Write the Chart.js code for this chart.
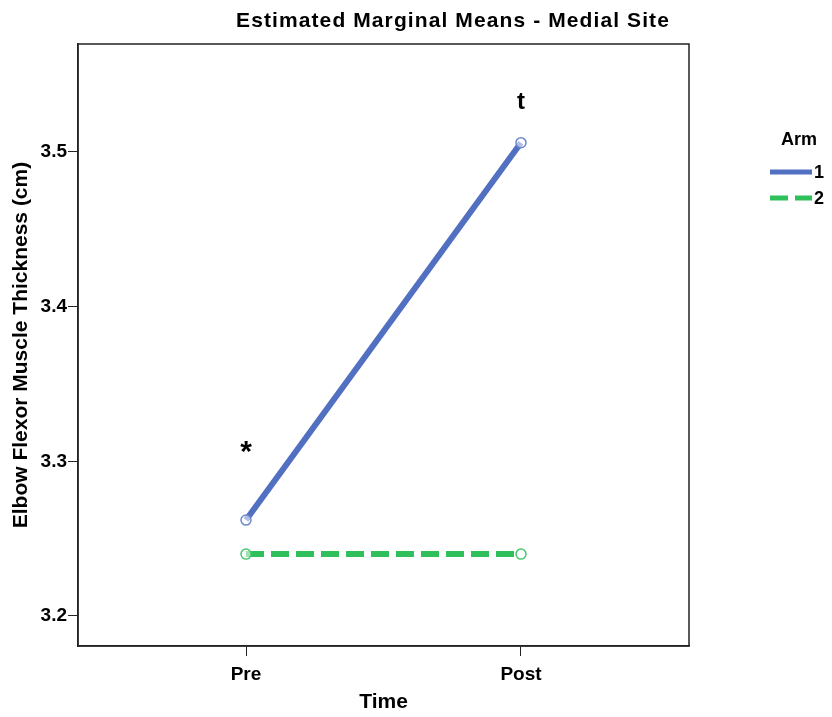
<!DOCTYPE html>
<html>
<head>
<meta charset="utf-8">
<title>Estimated Marginal Means - Medial Site</title>
<script src="https://cdn.jsdelivr.net/npm/chart.js@4.4.1/dist/chart.umd.min.js"></script>
<style>
  html, body { margin: 0; padding: 0; background: #fff; }
  #wrap { width: 832px; height: 717px; }
</style>
</head>
<body>
<div id="wrap"><canvas id="emmChart" width="832" height="717"></canvas></div>
<script>
// データ
const timePoints = ['Pre', 'Post'];
const arm1Means = [3.262, 3.506];
const arm2Means = [3.240, 3.240];
const yTicks = [3.2, 3.3, 3.4, 3.5];
// 有意差マーク
const markText = ['*', 't'];
const markValue = [3.309, 3.532];

const FONT = "'Liberation Sans', Arial, Helvetica, sans-serif";
const BLUE = '#5270c2';
const GREEN = '#2fbf5b';

function toPoints(values) {
    return values.map((v, i) => ({ x: i + 1, y: v }));
}

// タイトル・凡例・枠・マークを描画
const decorPlugin = {
    id: 'decor',
    afterDraw(chart) {
        const ctx = chart.ctx;
        const area = chart.chartArea;
        const xs = chart.scales.x;
        const ys = chart.scales.y;
        ctx.save();

        // 枠
        ctx.strokeStyle = '#222';
        ctx.lineWidth = 1.5;
        ctx.strokeRect(area.left, area.top, area.right - area.left, area.bottom - area.top);

        // タイトル
        ctx.fillStyle = '#000';
        ctx.font = 'bold 21px ' + FONT;
        ctx.textAlign = 'center';
        ctx.textBaseline = 'middle';
        if ('letterSpacing' in ctx) ctx.letterSpacing = '1.1px';
        ctx.fillText('Estimated Marginal Means - Medial Site', 453, 21);
        if ('letterSpacing' in ctx) ctx.letterSpacing = '0px';

        // マーク
        markText.forEach((t, i) => {
            ctx.font = (t === '*' ? 'bold 30px ' : 'bold 24px ') + FONT;
            ctx.fillText(t, xs.getPixelForValue(i + 1), ys.getPixelForValue(markValue[i]) + (t === '*' ? 5 : 0));
        });

        // 凡例
        ctx.font = 'bold 18px ' + FONT;
        ctx.fillText('Arm', 799, 140);
        ctx.textAlign = 'left';
        chart.data.datasets.forEach((ds, i) => {
            const y = 172 + i * 26;
            ctx.strokeStyle = ds.borderColor;
            ctx.lineWidth = 5;
            ctx.setLineDash(ds.borderDash || []);
            ctx.beginPath();
            ctx.moveTo(770, y);
            ctx.lineTo(812, y);
            ctx.stroke();
            ctx.setLineDash([]);
            ctx.fillText(ds.label, 814, y + 1);
        });
        ctx.restore();
    }
};

const ctx = document.getElementById('emmChart').getContext('2d');
new Chart(ctx, {
    type: 'line',
    data: {
        datasets: [{
            label: '1',
            data: toPoints(arm1Means),
            borderColor: BLUE,
            borderWidth: 6,
            pointRadius: 5,
            pointBorderWidth: 1.5,
            pointBorderColor: '#6f88d0',
            pointBackgroundColor: 'rgba(255,255,255,0.55)',
            fill: false,
            tension: 0
        }, {
            label: '2',
            data: toPoints(arm2Means),
            borderColor: GREEN,
            borderWidth: 6,
            borderDash: [18, 7],
            pointRadius: 5,
            pointBorderWidth: 1.5,
            pointBorderColor: '#45c96c',
            pointBackgroundColor: 'rgba(255,255,255,0.55)',
            fill: false,
            tension: 0
        }]
    },
    options: {
        responsive: false,
        animation: false,
        events: [],
        layout: { padding: { top: 44, right: 143, left: 0, bottom: 0 } },
        plugins: {
            legend: { display: false },
            title: { display: false },
            tooltip: { enabled: false }
        },
        scales: {
            x: {
                type: 'linear',
                min: 0.389,
                max: 2.611,
                afterFit(scale) { scale.height = 71; },
                afterBuildTicks(scale) {
                    scale.ticks = timePoints.map((_, i) => ({ value: i + 1 }));
                },
                grid: { display: true, drawOnChartArea: false, drawTicks: true, tickLength: 10, color: '#222', lineWidth: 1 },
                border: { display: true, color: '#222', width: 1.5 },
                ticks: {
                    autoSkip: false,
                    maxRotation: 0,
                    padding: 7,
                    color: '#000',
                    font: { family: FONT, size: 19, weight: 'bold' },
                    callback: (v) => timePoints[Math.round(v) - 1] || ''
                },
                title: {
                    display: true,
                    text: 'Time',
                    color: '#000',
                    font: { family: FONT, size: 21, weight: 'bold' },
                    padding: { top: 0, bottom: 2 }
                }
            },
            y: {
                min: 3.1806,
                max: 3.5698,
                afterFit(scale) { scale.width = 78; },
                afterBuildTicks(scale) {
                    scale.ticks = yTicks.map(v => ({ value: v }));
                },
                grid: { display: true, drawOnChartArea: false, drawTicks: true, tickLength: 10, color: '#222', lineWidth: 1 },
                border: { display: true, color: '#222', width: 1.5 },
                ticks: {
                    padding: 1,
                    color: '#000',
                    font: { family: FONT, size: 19, weight: 'bold' },
                    callback: (v) => v.toFixed(1)
                },
                title: {
                    display: true,
                    text: 'Elbow Flexor Muscle Thickness (cm)',
                    color: '#000',
                    font: { family: FONT, size: 21, weight: 'bold' },
                    padding: { top: 9, bottom: 0 }
                }
            }
        }
    },
    plugins: [decorPlugin]
});
</script>
</body>
</html>
